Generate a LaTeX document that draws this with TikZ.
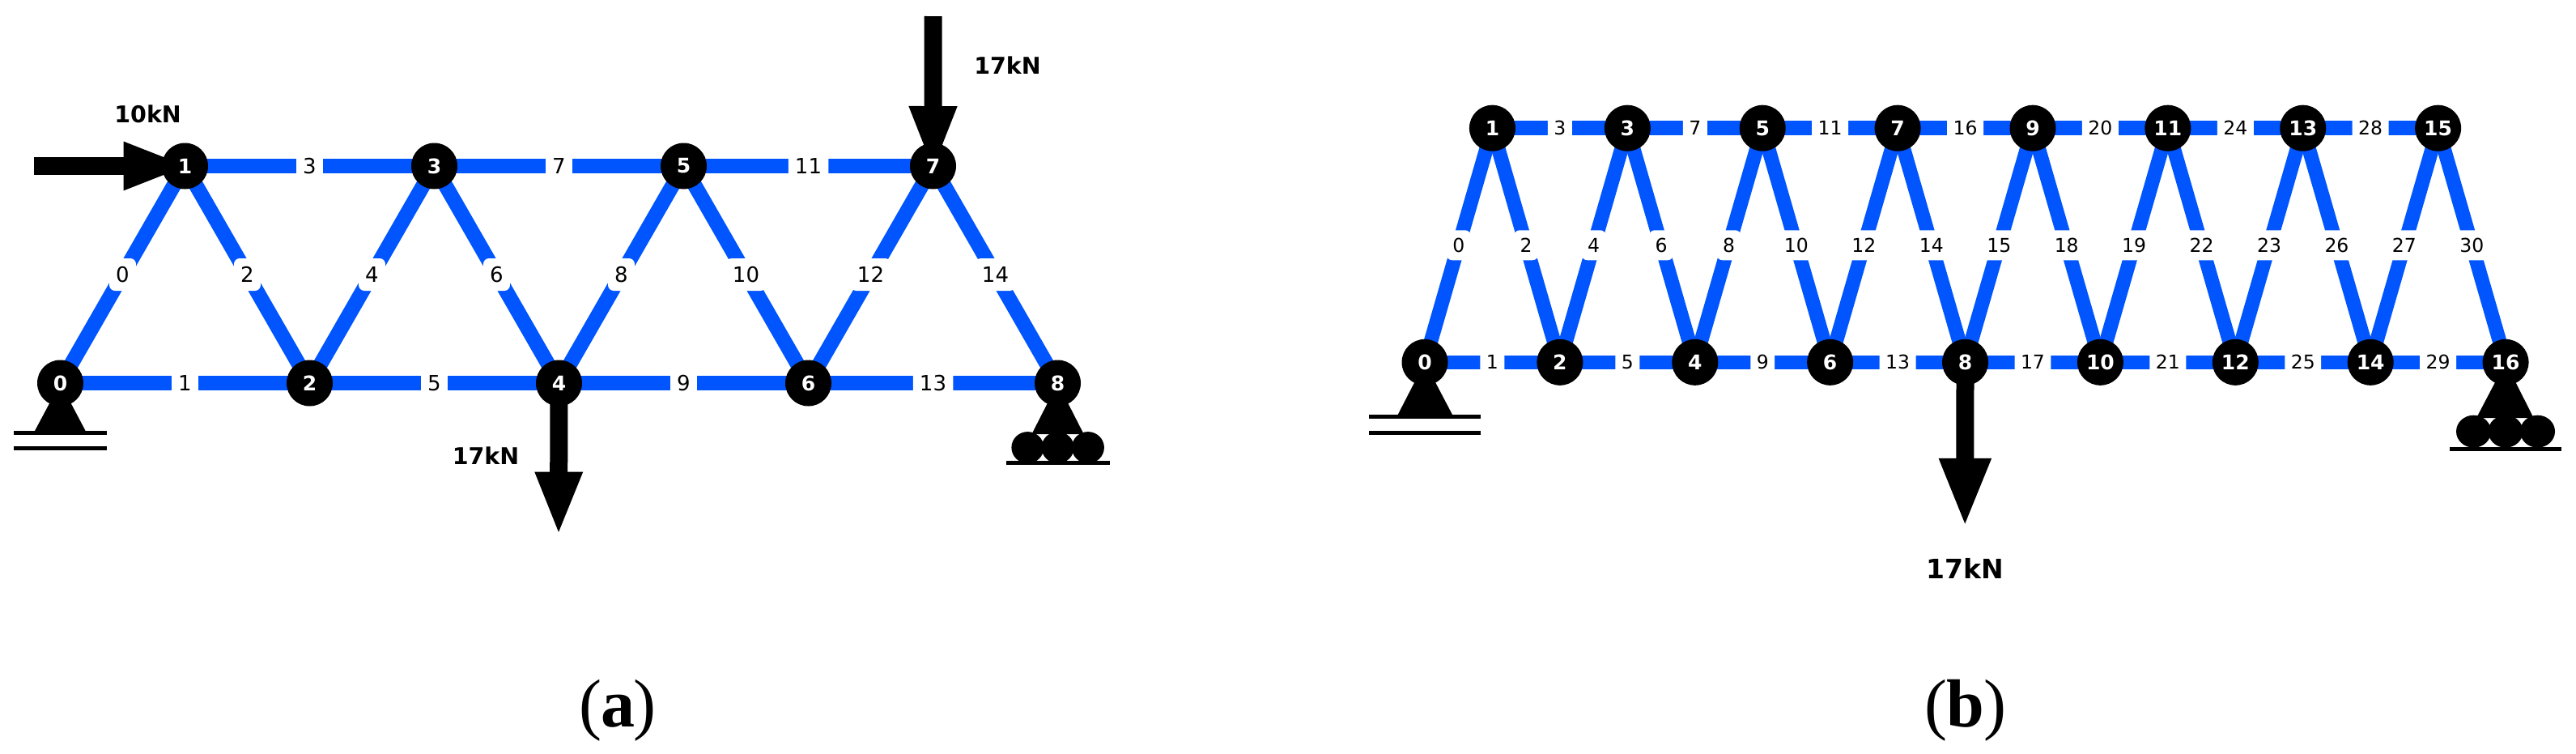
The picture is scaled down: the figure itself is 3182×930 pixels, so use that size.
\documentclass[tikz,border=0pt]{standalone}
\usepackage{fontspec}
\setmainfont{Liberation Serif}
\newfontfamily\djv{DejaVu Sans}
\usetikzlibrary{arrows.meta,backgrounds}
\definecolor{memberblue}{RGB}{0,85,255}
\tikzset{
  x=1pt,y=-1pt,
  joint/.style={circle,fill=black,minimum size=57pt,inner sep=0pt,text=white,
    font=\djv\bfseries\fontsize{25}{25}\selectfont},
  member/.style={draw=memberblue,line cap=butt},
  memberA/.style={member,line width=18.3pt},
  memberB/.style={member,line width=17.5pt},
  elabel/.style={fill=white,rounded corners=7pt,text=black,inner ysep=0pt,text depth=0pt,anchor=center,midway},
  elabA/.style={elabel,font=\djv\fontsize{26}{26}\selectfont,inner xsep=8.2pt,minimum height=40pt,text height=19pt},
  elabB/.style={elabel,font=\djv\fontsize{23.5}{24}\selectfont,inner xsep=7.5pt,minimum height=37pt,text height=17pt},
  force/.style={draw=black,line width=22pt,line cap=butt},
  load/.style={font=\djv\bfseries,text=black,inner sep=0pt},
  groundbar/.style={draw=black,line width=5pt,line cap=butt},
  caption/.style={inner sep=0pt,font=\fontsize{84}{84}\selectfont},
}
\begin{document}
\begin{tikzpicture}
\useasboundingbox (0,0) rectangle (3182,930);
% (a) joints
\foreach \i in {0,...,8}{
  \pgfmathsetmacro{\px}{74.5+154*\i}
  \pgfmathsetmacro{\py}{ifthenelse(mod(\i,2)==0,473,205)}
  \node[joint] (a\i) at (\px,\py) {\i};
}
% (b) joints
\foreach \i in {0,...,16}{
  \pgfmathsetmacro{\px}{1760+83.44*\i}
  \pgfmathsetmacro{\py}{ifthenelse(mod(\i,2)==0,447.3,158.2)}
  \node[joint] (b\i) at (\px,\py) {\i};
}
\coordinate (fa1) at (42,205);
\coordinate (fa7) at (1152.6,20);
\coordinate (fa4) at (690,661.6);
\coordinate (fb8) at (2427.2,651.6);
\begin{pgfonlayer}{background}
  \foreach \lab/\u/\v in {0/0/1,1/0/2,2/1/2,3/1/3,4/2/3,5/2/4,6/3/4,7/3/5,8/4/5,9/4/6,10/5/6,11/5/7,12/6/7,13/6/8,14/7/8}{
    \draw[memberA] (a\u.center) -- (a\v.center) node[elabA] (ea\lab) {\lab};
  }
  \foreach \lab/\u/\v in {0/0/1,1/0/2,2/1/2,3/1/3,4/2/3,5/2/4,6/3/4,7/3/5,8/4/5,9/4/6,10/5/6,11/5/7,12/6/7,13/6/8,14/7/8,15/8/9,16/7/9,17/8/10,18/9/10,19/10/11,20/9/11,21/10/12,22/11/12,23/12/13,24/11/13,25/12/14,26/13/14,27/14/15,28/13/15,29/14/16,30/15/16}{
    \draw[memberB] (b\u.center) -- (b\v.center) node[elabB] (eb\lab) {\lab};
  }
  % forces
  \draw[force,shorten >=-7pt,-{Triangle[length=83pt,width=53.5pt]}] (fa1) -- (a1.center);
  \draw[force,shorten >=-8pt,-{Triangle[length=82pt,width=53pt]}] (fa7) -- (a7.center);
  \draw[force,-{Triangle[length=79pt,width=53pt]}] (a4.center) -- (fa4);
  \draw[force,-{Triangle[length=85.7pt,width=58pt]}] (b8.center) -- (fb8);
  % pin support (a)
  \fill[black] (a0.center) -- (43,532) -- (105.6,532) -- cycle;
  \draw[groundbar] (17,534.4) -- (132,534.4);
  \draw[groundbar] (17,553) -- (132,553);
  % roller support (a)
  \fill[black] (a8.center) -- (1274.5,536) -- (1338.7,536) -- cycle;
  \foreach \cx in {1269.4,1306.6,1343.9}{\fill[black] (\cx,552.6) circle[x radius=20,y radius=19.5];}
  \draw[groundbar] (1243,571.4) -- (1371,571.4);
  % pin support (b)
  \fill[black] (b0.center) -- (1726.7,512) -- (1794,512) -- cycle;
  \draw[groundbar] (1691,514.5) -- (1828.8,514.5);
  \draw[groundbar] (1691,534.6) -- (1828.8,534.6);
  % roller support (b)
  \fill[black] (b16.center) -- (3059,516) -- (3129.5,516) -- cycle;
  \foreach \cx in {3055.5,3095,3134.5}{\fill[black] (\cx,532.7) circle[x radius=21.5,y radius=20];}
  \draw[groundbar] (3026,554.3) -- (3164,554.3);
\end{pgfonlayer}
% loads
\node[load,font=\djv\bfseries\fontsize{28.5}{29}\selectfont] (l10) at (182.6,140.6) {10kN};
\node[load,font=\djv\bfseries\fontsize{28.5}{29}\selectfont] (l17a) at (600,563) {17kN};
\node[load,font=\djv\bfseries\fontsize{28.5}{29}\selectfont] (l17b) at (1244.5,80.4) {17kN};
\node[load,font=\djv\bfseries\fontsize{33}{33}\selectfont] (l17c) at (2427,702) {17kN};
% captions
\node[caption] (capa) at (763,877) {(\kern-1.5pt\textbf{a}\kern-1.5pt)};
\node[caption] (capb) at (2428,877) {(\kern-1pt\textbf{b}\kern-1pt)};
\end{tikzpicture}
\end{document}
